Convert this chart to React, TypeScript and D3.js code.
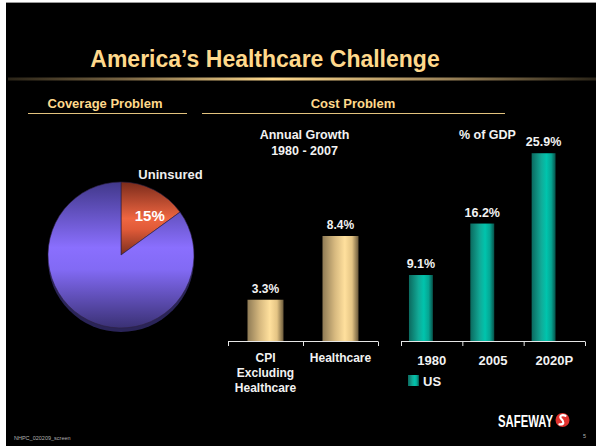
import React from "react";
import * as d3 from "d3";

const W = 596;
const H = 446;

// ---- data ----
const titleText = "America\u2019s Healthcare Challenge";
const pieLabels = ["Uninsured", "Insured"];
const pieValues = [15, 85];

const growthCategories = ["CPI\nExcluding\nHealthcare", "Healthcare"];
const growthValues = [3.3, 8.4];

const gdpCategories = ["1980", "2005", "2020P"];
const gdpValues = [9.1, 16.2, 25.9];
const gdpSeries = "US";

const FONT = "'Liberation Sans', Arial, Helvetica, sans-serif";
const GOLD = "#FFD98C";
const WHITE = "#F2F2F2";

export default function App() {
  // ---- pie ----
  const cx = 121, cy = 255, r = 73;
  const pie = d3.pie<number>().sort(null).startAngle(0).endAngle(Math.PI * 2);
  const arcs = pie(pieValues);
  const arc = d3.arc<d3.PieArcDatum<number>>().innerRadius(0).outerRadius(r);
  const labelArc = d3.arc<d3.PieArcDatum<number>>().innerRadius(48).outerRadius(48);
  const unc = labelArc.centroid(arcs[0]);

  // ---- growth chart ----
  const x1 = d3.scaleBand<string>().domain(growthCategories).range([228, 378]).padding(0);
  const y1 = d3.scaleLinear().domain([0, 10]).range([341, 216]);
  const bw1 = x1.bandwidth() * 0.48;

  // ---- GDP chart ----
  const x2 = d3.scaleBand<string>().domain(gdpCategories).range([401, 585]).padding(0);
  const y2 = d3.scaleLinear().domain([0, 30]).range([341, 123.5]);
  const bw2 = x2.bandwidth() * 0.39;
  const off2 = x2.bandwidth() * 0.13;

  const ticks1 = [...growthCategories.map((c) => x1(c)!), x1.range()[1]];
  const ticks2 = [...gdpCategories.map((c) => x2(c)!), x2.range()[1]];

  const tf = (size: number, fill = WHITE) => ({
    fontFamily: FONT,
    fontWeight: 700,
    fontSize: size,
    fill,
  });

  return (
    <svg
      width={W}
      height={H}
      viewBox={`0 0 ${W} ${H}`}
      style={{ position: "absolute", left: 0, top: 0, display: "block" }}
    >
      <defs>
        <linearGradient id="titleLine" x1="0" y1="0" x2="1" y2="0">
          <stop offset="0" stopColor="#2a2418" />
          <stop offset="0.2" stopColor="#7a6644" />
          <stop offset="0.45" stopColor="#FFDA8E" />
          <stop offset="0.75" stopColor="#9a8258" />
          <stop offset="1" stopColor="#2a2418" />
        </linearGradient>
        <linearGradient id="purpleGrad" x1="0" y1="0" x2="0" y2="1">
          <stop offset="0" stopColor="#41388a" />
          <stop offset="0.45" stopColor="#8a6ffe" />
          <stop offset="0.6" stopColor="#826af4" />
          <stop offset="1" stopColor="#3a3174" />
        </linearGradient>
        <linearGradient id="redGrad" x1="0" y1="0" x2="0" y2="1">
          <stop offset="0" stopColor="#7a2b1b" />
          <stop offset="0.5" stopColor="#ef6641" />
          <stop offset="0.65" stopColor="#e05a38" />
          <stop offset="1" stopColor="#7a2e1e" />
        </linearGradient>
        <linearGradient id="goldBar" x1="0" y1="0" x2="1" y2="0">
          <stop offset="0" stopColor="#8f7b55" />
          <stop offset="0.35" stopColor="#d8ba80" />
          <stop offset="0.62" stopColor="#ffe09d" />
          <stop offset="0.82" stopColor="#e4c484" />
          <stop offset="1" stopColor="#6b5a3b" />
        </linearGradient>
        <linearGradient id="tealBar" x1="0" y1="0" x2="1" y2="0">
          <stop offset="0" stopColor="#0b6a5f" />
          <stop offset="0.4" stopColor="#12aa97" />
          <stop offset="0.62" stopColor="#00c4ad" />
          <stop offset="0.82" stopColor="#06a592" />
          <stop offset="1" stopColor="#07524a" />
        </linearGradient>
      </defs>

      {/* background */}
      <rect x={0} y={0} width={W} height={H} fill="#ffffff" />
      <rect x={6} y={2} width={W - 6} height={1} fill="#9a9a9a" />
      <rect x={6} y={3} width={W - 6} height={H - 3} fill="#000000" />

      {/* title */}
      <text x={265} y={67} textAnchor="middle" style={tf(23, GOLD)}>
        {titleText}
      </text>
      <rect x={8} y={77.5} width={W - 8} height={3} fill="url(#titleLine)" />

      {/* section headers */}
      <text x={105} y={108} textAnchor="middle" style={tf(13, GOLD)}>
        Coverage Problem
      </text>
      <line x1={28} x2={187} y1={113.5} y2={113.5} stroke="#e2c27e" strokeWidth={1} />
      <text x={353} y={108} textAnchor="middle" style={tf(13, GOLD)}>
        Cost Problem
      </text>
      <line x1={202} x2={505} y1={113.5} y2={113.5} stroke="#e2c27e" strokeWidth={1} />

      {/* pie */}
      <g transform={`translate(${cx},${cy})`}>
        <circle cx={0} cy={4} r={r} fill="#2a2458" />
        {arcs.map((a, i) => (
          <path
            key={pieLabels[i]}
            d={arc(a) || ""}
            fill={i === 0 ? "url(#redGrad)" : "url(#purpleGrad)"}
            stroke="#2b2040"
            strokeWidth={0.6}
          />
        ))}
        <text x={unc[0] + 7} y={unc[1] + 9} textAnchor="middle" style={tf(15, "#ffffff")}>
          {`${pieValues[0]}%`}
        </text>
        <text x={49.5} y={-76} textAnchor="middle" style={tf(13, "#eeeeee")}>
          {pieLabels[0]}
        </text>
      </g>

      {/* growth chart */}
      <text x={304.5} y={139} textAnchor="middle" style={tf(12.5)}>
        Annual Growth
      </text>
      <text x={304.5} y={155} textAnchor="middle" style={tf(12.5)}>
        1980 - 2007
      </text>
      {growthCategories.map((c, i) => {
        const bx = x1(c)! + (x1.bandwidth() - bw1) / 2;
        const v = growthValues[i];
        return (
          <g key={c}>
            <rect x={bx} y={y1(v)} width={bw1} height={y1(0) - y1(v)} fill="url(#goldBar)" />
            <text x={bx + bw1 / 2} y={y1(v) - 7} textAnchor="middle" style={tf(12)}>
              {`${v}%`}
            </text>
            {c.split("\n").map((line, j) => (
              <text
                key={line}
                x={x1(c)! + x1.bandwidth() / 2}
                y={362 + j * 15}
                textAnchor="middle"
                style={tf(12)}
              >
                {line}
              </text>
            ))}
          </g>
        );
      })}
      <line x1={x1.range()[0]} x2={x1.range()[1]} y1={341.5} y2={341.5} stroke="#e6e6e6" strokeWidth={1} />
      {ticks1.map((t, i) => (
        <line key={i} x1={t + 0.5} x2={t + 0.5} y1={341.5} y2={346} stroke="#e6e6e6" strokeWidth={1} />
      ))}

      {/* GDP chart */}
      <text x={487.5} y={139} textAnchor="middle" style={tf(12.5)}>
        % of GDP
      </text>
      {gdpCategories.map((c, i) => {
        const bx = x2(c)! + off2;
        const v = gdpValues[i];
        return (
          <g key={c}>
            <rect x={bx} y={y2(v)} width={bw2} height={y2(0) - y2(v)} fill="url(#tealBar)" />
            <text x={bx + bw2 / 2} y={y2(v) - 7} textAnchor="middle" style={tf(12.5)}>
              {`${v}%`}
            </text>
            <text x={x2(c)! + x2.bandwidth() / 2} y={365} textAnchor="middle" style={tf(13)}>
              {c}
            </text>
          </g>
        );
      })}
      <line x1={x2.range()[0]} x2={x2.range()[1]} y1={341.5} y2={341.5} stroke="#e6e6e6" strokeWidth={1} />
      {ticks2.map((t, i) => (
        <line key={i} x1={t + 0.5} x2={t + 0.5} y1={341.5} y2={346} stroke="#e6e6e6" strokeWidth={1} />
      ))}
      {/* legend */}
      <rect x={408} y={375} width={11} height={11} fill="url(#tealBar)" />
      <text x={423} y={385.5} style={tf(13)}>
        {gdpSeries}
      </text>

      {/* footer */}
      <text x={14} y={440} style={{ fontFamily: FONT, fontSize: 5.5, fill: "#b0b0b0" }}>
        NHPC_020209_screen
      </text>
      <text x={583} y={438} style={{ fontFamily: FONT, fontSize: 5.5, fill: "#b0b0b0" }}>
        5
      </text>
      <text
        x={498}
        y={427}
        textLength={55}
        lengthAdjust="spacingAndGlyphs"
        style={{ fontFamily: FONT, fontWeight: 700, fontSize: 17, fill: "#ffffff" }}
      >
        SAFEWAY
      </text>
      <circle cx={562.5} cy={420} r={7} fill="#e0322e" />
      <path
        d="M565.5,415.8 C562,413.8 558.6,416.4 561.2,418.8 C564.2,421.4 564.6,424.8 559.4,424.3"
        fill="none"
        stroke="#ffffff"
        strokeWidth={2.2}
        strokeLinecap="round"
      />
    </svg>
  );
}
